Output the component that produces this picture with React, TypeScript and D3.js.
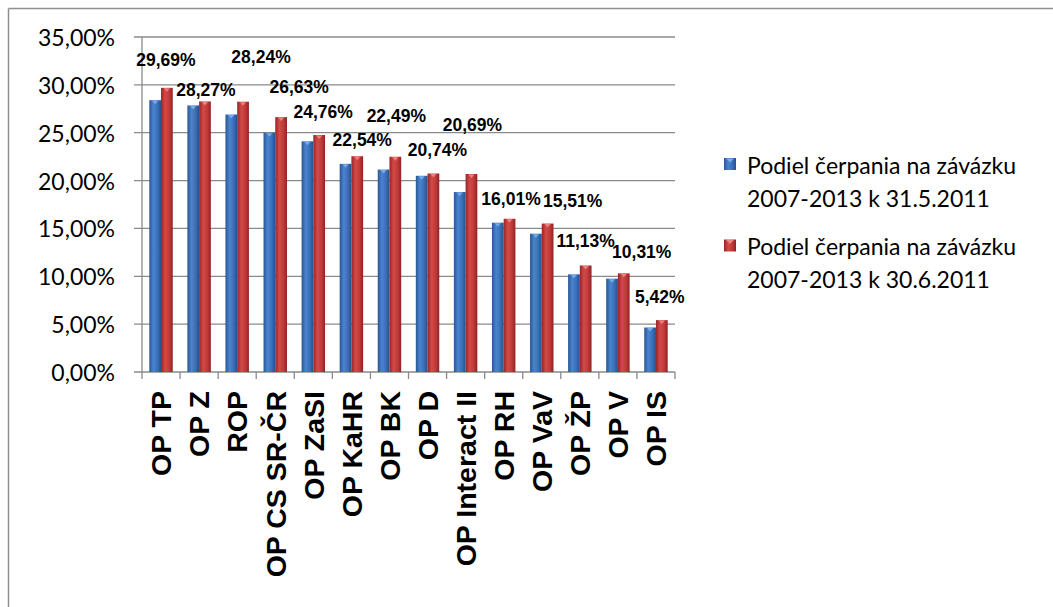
import React from "react";
import * as d3 from "d3";

const categories = ["OP TP", "OP Z", "ROP", "OP CS SR-ČR", "OP ZaSI", "OP KaHR", "OP BK", "OP D", "OP Interact II", "OP RH", "OP VaV", "OP ŽP", "OP V", "OP IS"];
const seriesNames = ["Podiel čerpania na závázku 2007-2013 k 31.5.2011", "Podiel čerpania na závázku 2007-2013 k 30.6.2011"];
const may2011 = [28.4, 27.85, 26.9, 25.0, 24.1, 21.75, 21.15, 20.5, 18.8, 15.6, 14.45, 10.2, 9.75, 4.65];
const jun2011 = [29.69, 28.27, 28.24, 26.63, 24.76, 22.54, 22.49, 20.74, 20.69, 16.01, 15.51, 11.13, 10.31, 5.42];
const yTicks = [0, 5, 10, 15, 20, 25, 30, 35];

// label placement offsets (layout, relative to red bar top-center)
const labelDx = [-1, 1, 18, 18, 4, 5, 1, 4, 1, 1.5, 25, 0, 18, -2];
const labelDy = [-28, -11, -45, -30, -23, -16, -41, -23, -49, -20, -23, -24, -21, -23];

const W = 1053, H = 607;
const plot = { left: 142, right: 675, top: 37, bottom: 372 };

const fmt = (v: number) => v.toFixed(2).replace(".", ",") + "%";

export default function App() {
  const x0 = d3.scaleBand<string>().domain(categories).range([plot.left, plot.right]).padding(0);
  const bw = x0.bandwidth();
  const x1 = d3.scaleBand<string>().domain(["a", "b"]).range([bw * 0.192, bw * 0.808]).padding(0);
  const y = d3.scaleLinear().domain([0, 35]).range([plot.bottom, plot.top]);
  const grid = "#8a8a8a";
  const series = [
    { key: "a", values: may2011, fill: "url(#gBlue)", cap: "#7fb0ea" },
    { key: "b", values: jun2011, fill: "url(#gRed)", cap: "#ee8a88" },
  ];
  return (
    <svg width={W} height={H} style={{ position: "absolute", left: 0, top: 0, background: "#fff" }}>
      <defs>
        <linearGradient id="gBlue" x1="0" x2="1" y1="0" y2="0">
          <stop offset="0" stopColor="#2a5694" />
          <stop offset="0.35" stopColor="#4a84cf" />
          <stop offset="0.7" stopColor="#3a6fb8" />
          <stop offset="1" stopColor="#25508c" />
        </linearGradient>
        <linearGradient id="gRed" x1="0" x2="1" y1="0" y2="0">
          <stop offset="0" stopColor="#952525" />
          <stop offset="0.35" stopColor="#d34a48" />
          <stop offset="0.7" stopColor="#bf3a39" />
          <stop offset="1" stopColor="#8f2323" />
        </linearGradient>
      </defs>
      {/* outer border (top & left) */}
      <line x1={8.5} x2={W} y1={8.5} y2={8.5} stroke="#8f8f8f" strokeWidth={1.5} />
      <line x1={8.5} x2={8.5} y1={8.5} y2={H} stroke="#8f8f8f" strokeWidth={1.5} />
      {/* gridlines */}
      {yTicks.map((t) => (
        <g key={t}>
          <line x1={plot.left - 8} x2={plot.right} y1={y(t)} y2={y(t)} stroke={grid} strokeWidth={1.3} />
          <text x={115} y={y(t)} textAnchor="end" dominantBaseline="central" fontFamily="Lato, 'Open Sans', sans-serif" fontSize={23} fill="#000">
            {fmt(t)}
          </text>
        </g>
      ))}
      <line x1={plot.left} x2={plot.left} y1={plot.top} y2={plot.bottom} stroke={grid} strokeWidth={1.3} />
      {categories.concat([""]).map((_, i) => {
        const xx = plot.left + bw * i;
        return <line key={"t" + i} x1={xx} x2={xx} y1={plot.bottom} y2={plot.bottom + 7} stroke={grid} strokeWidth={1.3} />;
      })}
      {/* bars */}
      {series.map((s) =>
        categories.map((c, i) => {
          const bx = (x0(c) as number) + (x1(s.key) as number);
          const w = x1.bandwidth();
          const top = y(s.values[i]);
          return (
            <g key={s.key + c}>
              <rect x={bx} y={top} width={w} height={plot.bottom - top} fill={s.fill} />
              <path d={`M${bx + w * 0.25},${top + 0.5} L${bx + w * 0.75},${top + 0.5} L${bx + w * 0.5},${top + 4} Z`} fill={s.cap} opacity={0.9} />
            </g>
          );
        })
      )}
      {/* data labels */}
      {categories.map((c, i) => {
        const cx = (x0(c) as number) + (x1("b") as number) + x1.bandwidth() / 2 + labelDx[i];
        const cy = y(jun2011[i]) + labelDy[i];
        return (
          <text key={"l" + c} x={cx} y={cy} textAnchor="middle" dominantBaseline="central" fontFamily="'Liberation Sans', Arial, sans-serif" fontWeight="bold" fontSize={17.5} fill="#000">
            {fmt(jun2011[i])}
          </text>
        );
      })}
      {/* x labels */}
      {categories.map((c) => {
        const cx = (x0(c) as number) + bw / 2;
        return (
          <text key={"x" + c} transform={`translate(${cx},${391}) rotate(-90)`} textAnchor="end" dy="0.36em" fontFamily="'Liberation Sans', Arial, sans-serif" fontWeight="bold" fontSize={28.5} fill="#000">
            {c}
          </text>
        );
      })}
      {/* legend */}
      {seriesNames.map((n, i) => {
        const words = n.split(" ");
        const line1 = words.slice(0, 4).join(" ");
        const line2 = words.slice(4).join(" ");
        const ly = 164.5 + i * 81.5;
        const fill = i === 0 ? "url(#gBlue)" : "url(#gRed)";
        const cap = i === 0 ? "#7fb0ea" : "#ee8a88";
        return (
          <g key={"lg" + i}>
            <rect x={724} y={ly - 6.5} width={12} height={12} fill={fill} />
            <path d={`M${726},${ly - 6} L${734},${ly - 6} L${730},${ly - 2} Z`} fill={cap} opacity={0.9} />
            <text x={747} y={ly} dominantBaseline="central" fontFamily="Lato, 'Open Sans', sans-serif" fontSize={23} fill="#000">
              <tspan x={747}>{line1}</tspan>
              <tspan x={747} dy={33}>{line2}</tspan>
            </text>
          </g>
        );
      })}
    </svg>
  );
}
